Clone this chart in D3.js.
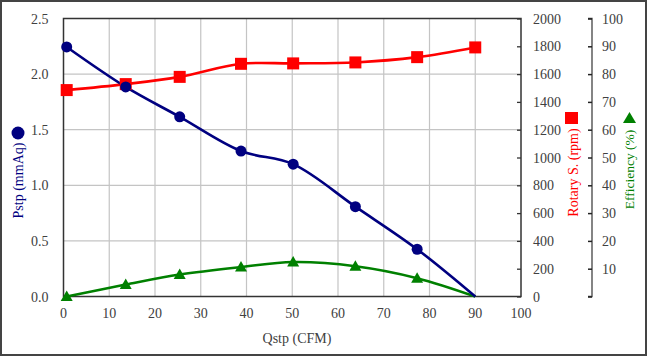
<!DOCTYPE html>
<html><head><meta charset="utf-8">
<script src="https://cdn.jsdelivr.net/npm/d3@7"></script>
<style>body{margin:0;background:#fff}svg{display:block}
svg text{font-family:"Liberation Serif","Times New Roman",Times,"DejaVu Serif",serif;}</style>
</head><body>
<script>
const qstp = [0.7, 13.6, 25.4, 38.8, 50.2, 63.8, 77.3, 90];
const pstp = [2.244, 1.885, 1.616, 1.308, 1.19, 0.808, 0.425, 0];
const rpm = [1485, 1528, 1580, 1674, 1677, 1684, 1722, 1792];
const eff = [0, 4.3, 7.9, 10.6, 12.4, 10.9, 6.6, 0];
const xTicks = [0,10,20,30,40,50,60,70,80,90,100];
const pTicks = [0,0.5,1.0,1.5,2.0,2.5];
const rTicks = [0,200,400,600,800,1000,1200,1400,1600,1800,2000];
const eTicks = [10,20,30,40,50,60,70,80,90,100];

const W=647,H=356;
const L=63.5,R=521,T=18.5,B=296.5;
const svg=d3.select("body").append("svg").attr("width",W).attr("height",H);
svg.append("rect").attr("x",1).attr("y",1).attr("width",W-2).attr("height",H-2)
  .attr("fill","#fff").attr("stroke","#444").attr("stroke-width",2);

const x=d3.scaleLinear().domain([0,100]).range([L,R]);
const y=d3.scaleLinear().domain([0,2.5]).range([B,T]);
const yr=d3.scaleLinear().domain([0,2000]).range([B,T]);
const ye=d3.scaleLinear().domain([0,100]).range([B,T]);

// grid
const g=svg.append("g");
g.selectAll(".vg").data(xTicks.slice(1,-1)).join("line")
 .attr("x1",d=>x(d)).attr("x2",d=>x(d)).attr("y1",T).attr("y2",B)
 .attr("stroke","#c4c4c4").attr("stroke-width",1.2);
g.selectAll(".hg").data(pTicks.slice(1,-1)).join("line")
 .attr("y1",d=>y(d)).attr("y2",d=>y(d)).attr("x1",L).attr("x2",R)
 .attr("stroke","#c4c4c4").attr("stroke-width",1.2);

// rpm inner ticks
svg.append("g").attr("transform",`translate(${R},0)`)
 .call(d3.axisRight(yr).tickValues(rTicks).tickSize(-4).tickFormat(""))
 .call(a=>a.select(".domain").remove())
 .call(a=>a.selectAll("line").attr("stroke","#333").attr("stroke-width",1.3));

// frame
svg.append("rect").attr("x",L).attr("y",T).attr("width",R-L).attr("height",B-T)
 .attr("fill","none").attr("stroke","#333").attr("stroke-width",1.5);

const txt=(sel)=>sel.attr("font-size",14).attr("fill","#404040");
// x labels
svg.append("g").selectAll("text").data(xTicks).join("text")
 .attr("x",d=>x(d)).attr("y",B+21).attr("text-anchor","middle").text(d=>d).call(txt);
// left labels
svg.append("g").selectAll("text").data(pTicks).join("text")
 .attr("x",L-15).attr("y",d=>y(d)+5).attr("text-anchor","end").text(d=>d.toFixed(1)).call(txt);
// rpm labels
svg.append("g").selectAll("text").data(rTicks).join("text")
 .attr("x",533).attr("y",d=>yr(d)+5).attr("text-anchor","start").text(d=>d).call(txt);
// efficiency axis
const ex=592;
svg.append("g").attr("transform",`translate(${ex},0)`)
 .call(d3.axisLeft(ye).tickValues([0].concat(eTicks)).tickSize(4).tickFormat(""))
 .call(a=>a.select(".domain").attr("stroke","#444").attr("stroke-width",1.3).attr("d",`M-4,${T}H0V${B}H-4`))
 .call(a=>a.selectAll("line").attr("stroke","#222").attr("stroke-width",1.5));
svg.append("g").selectAll("text").data(eTicks).join("text")
 .attr("x",602).attr("y",d=>ye(d)+5).attr("text-anchor","start").text(d=>d).call(txt);

// titles
svg.append("text").attr("x",297).attr("y",343).attr("text-anchor","middle").text("Qstp (CFM)").call(txt);
svg.append("text").attr("transform","translate(23,180.5) rotate(-90)").attr("text-anchor","middle")
 .attr("font-size",14).attr("fill","#000080").text("Pstp (mmAq)");
svg.append("circle").attr("cx",18).attr("cy",133).attr("r",6.5).attr("fill","#000080");
svg.append("text").attr("transform","translate(577.5,172.5) rotate(-90)").attr("text-anchor","middle")
 .attr("font-size",14).attr("fill","#ff0000").text("Rotary S. (rpm)");
svg.append("rect").attr("x",565).attr("y",112).attr("width",13).attr("height",12).attr("fill","#ff0000");
svg.append("text").attr("transform","translate(634,169.5) rotate(-90)").attr("text-anchor","middle")
 .attr("font-size",13.5).attr("fill","#008000").text("Efficiency (%)");
svg.append("path").attr("d","M623,123L636,123L629.5,112Z").attr("fill","#008000");

// series
const curve=d3.curveCatmullRom.alpha(0.5);
const mk=(ys,scale,color)=>{
  const line=d3.line().x((d,i)=>x(qstp[i])).y(d=>scale(d)).curve(curve);
  svg.append("path").datum(ys).attr("d",line).attr("fill","none").attr("stroke",color).attr("stroke-width",2.6);
};
mk(eff,ye,"#008000");
mk(rpm,yr,"#ff0000");
mk(pstp,y,"#000080");

// markers
svg.append("g").selectAll("path").data(eff.slice(0,-1)).join("path")
 .attr("d",(d,i)=>{const cx=x(qstp[i]),cy=ye(d);return `M${cx-6},${cy+4.5}L${cx+6},${cy+4.5}L${cx},${cy-6}Z`;})
 .attr("fill","#008000");
svg.append("g").selectAll("rect").data(rpm).join("rect")
 .attr("x",(d,i)=>x(qstp[i])-6).attr("y",d=>yr(d)-6).attr("width",12).attr("height",12).attr("fill","#ff0000");
svg.append("g").selectAll("circle").data(pstp.slice(0,-1)).join("circle")
 .attr("cx",(d,i)=>x(qstp[i])).attr("cy",d=>y(d)).attr("r",5.5).attr("fill","#000080");
</script>
</body></html>
